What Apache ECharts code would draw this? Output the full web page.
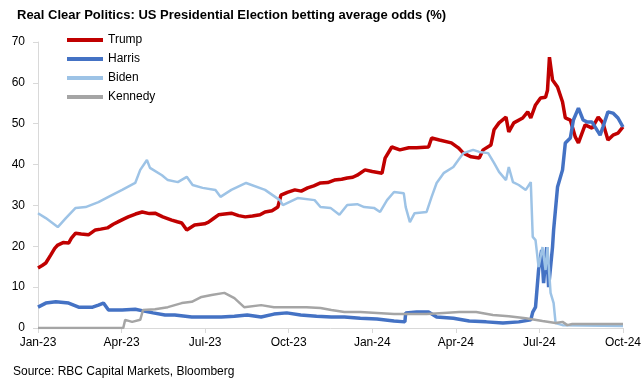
<!DOCTYPE html>
<html>
<head>
<meta charset="utf-8">
<script src="https://cdn.jsdelivr.net/npm/echarts@6/dist/echarts.min.js"></script>
<style>html,body{margin:0;padding:0;background:#fff}#c{width:644px;height:383px}</style>
</head>
<body>
<div id="c"></div>
<script>
// x values are months since Jan-2023
const tickLabels = ['Jan-23','Apr-23','Jul-23','Oct-23','Jan-24','Apr-24','Jul-24','Oct-24'];

const trumpX = [0,0.15,0.28,0.46,0.60,0.71,0.90,1.10,1.20,1.35,1.55,1.81,2.06,2.25,2.49,2.70,2.85,3.05,3.24,3.50,3.74,4.00,4.20,4.48,4.80,5.00,5.16,5.34,5.62,5.98,6.12,6.30,6.48,6.70,6.94,7.20,7.44,7.70,7.97,8.15,8.40,8.61,8.72,8.95,9.22,9.45,9.68,9.90,10.14,10.40,10.64,10.90,11.10,11.30,11.46,11.74,12.00,12.35,12.46,12.70,12.99,13.31,13.59,14.02,14.13,14.41,14.84,15.09,15.27,15.55,15.84,15.98,16.26,16.37,16.55,16.80,16.90,17.08,17.40,17.58,17.69,17.86,18.04,18.22,18.29,18.36,18.47,18.65,18.83,18.93,19.11,19.29,19.40,19.64,19.89,20.11,20.28,20.46,20.64,20.82,21.00];
const trumpY = [14.7,15.3,15.9,17.9,19.5,20.3,20.9,20.8,22.0,23.2,23.0,22.8,24.0,24.2,24.5,25.4,25.9,26.6,27.2,27.9,28.4,28.0,28.1,27.2,26.4,26.0,25.7,24.0,25.2,25.5,25.9,26.8,27.7,27.9,28.1,27.5,27.2,27.4,27.7,28.4,28.7,29.6,32.5,33.2,33.8,33.5,34.3,34.8,35.5,35.6,36.2,36.4,36.7,36.9,37.4,38.7,38.3,37.9,41.6,44.3,43.6,44.1,44.1,44.3,46.5,46.0,45.3,44.1,42.8,41.9,41.6,43.6,44.8,48.5,50.2,51.6,48.0,50.2,51.4,52.9,51.4,54.6,56.3,56.5,58.2,66.3,60.7,59.0,55.3,51.4,50.9,46.7,45.3,49.7,48.9,51.6,50.2,46.0,47.2,47.7,49.2];

const harrisX = [0,0.28,0.64,1.10,1.46,1.96,2.17,2.35,2.53,3.02,3.49,3.77,4.13,4.56,4.91,5.52,6.09,6.58,7.05,7.51,8.01,8.47,8.93,9.43,10.00,10.53,11.00,11.57,12.17,12.78,13.17,13.20,13.59,14.02,14.31,14.91,15.48,16.09,16.69,17.26,17.69,17.76,17.86,17.97,18.08,18.15,18.26,18.33,18.47,18.51,18.65,18.83,18.93,19.11,19.22,19.40,19.57,19.72,19.89,20.18,20.28,20.46,20.64,20.82,21.00];
const harrisY = [5.1,6.1,6.4,6.1,5.1,5.1,5.6,6.1,4.4,4.4,4.6,4.2,3.7,3.2,3.2,2.7,2.7,2.7,2.9,3.2,2.7,3.4,3.7,3.2,2.9,2.7,2.7,2.4,2.2,1.7,1.5,3.7,3.9,3.9,2.7,2.4,1.7,1.5,1.2,1.5,2.0,3.9,5.1,14.2,19.1,11.0,19.8,10.0,19.8,24.0,34.5,38.7,45.3,46.5,50.9,53.8,50.9,50.4,50.4,47.2,49.2,52.9,52.6,51.4,49.2];

const bidenX = [0,0.28,0.71,1.00,1.35,1.71,2.17,2.53,3.02,3.49,3.67,3.91,4.02,4.45,4.66,5.02,5.34,5.55,5.91,6.37,6.55,6.94,7.47,8.15,8.68,8.79,9.32,9.93,10.14,10.50,10.82,11.10,11.46,11.71,12.06,12.28,12.53,12.78,13.13,13.20,13.35,13.52,13.95,14.13,14.31,14.56,14.91,15.09,15.27,15.62,15.84,16.16,16.37,16.55,16.80,16.90,17.05,17.26,17.51,17.69,17.76,17.86,17.97,18.11,18.22,18.29,18.40,18.51,18.58,18.83,21.00];
const bidenY = [28.1,26.9,24.7,26.9,29.4,29.6,30.8,32.1,33.8,35.5,38.7,41.1,39.2,37.4,36.2,35.7,37.0,35.0,34.3,33.8,32.1,33.8,35.5,33.8,31.3,30.1,31.8,31.3,29.6,29.4,27.7,30.1,30.3,29.6,29.4,28.4,31.3,33.3,33.0,29.6,25.9,28.1,28.4,32.1,35.5,37.9,39.4,41.1,42.8,43.6,43.1,42.8,40.4,38.2,36.2,39.4,35.7,35.0,33.8,35.7,22.3,21.5,14.9,19.8,14.2,19.8,8.6,6.1,1.2,0.7,0.5];

const kennedyX = [0,3.06,3.13,3.38,3.67,3.77,4.20,4.66,5.16,5.52,5.87,6.23,6.69,7.05,7.40,8.01,8.47,9.07,9.64,10.14,10.53,11.00,11.57,12.17,12.78,13.35,13.95,14.56,15.12,15.73,16.33,16.90,17.51,18.11,18.58,18.83,19.00,19.18,21.00];
const kennedyY = [0,0,2.0,1.5,2.0,4.4,4.6,5.1,6.1,6.4,7.6,8.1,8.6,7.3,5.1,5.6,5.1,5.1,5.1,4.9,4.4,3.9,3.9,3.7,3.4,3.4,3.4,3.7,3.9,3.9,3.2,2.9,2.4,1.7,1.2,1.5,0.7,1.0,1.0];

const pair = (xs, ys) => xs.map((x, i) => [x, ys[i]]);
const FONT = 'Liberation Sans, Arial, sans-serif';

const chart = echarts.init(document.getElementById('c'), null, {renderer: 'canvas'});
chart.setOption({
  animation: false,
  backgroundColor: '#ffffff',
  textStyle: {fontFamily: FONT},
  title: [
    {text: 'Real Clear Politics: US Presidential Election betting average odds (%)', left: 12, top: 4,
     textStyle: {fontFamily: FONT, fontSize: 13, fontWeight: 'bold', color: '#000'}},
    {text: 'Source: RBC Capital Markets, Bloomberg', left: 8, top: 361,
     textStyle: {fontFamily: FONT, fontSize: 12, fontWeight: 'normal', color: '#000'}}
  ],
  legend: {
    orient: 'vertical', left: 62, top: 29, itemWidth: 36, itemHeight: 4, itemGap: 7, itemTextGap: 4,
    icon: 'rect',
    textStyle: {fontFamily: FONT, fontSize: 12, color: '#000'},
    data: ['Trump', 'Harris', 'Biden', 'Kennedy']
  },
  grid: {left: 38, right: 16, top: 42, bottom: 55, containLabel: false},
  xAxis: {
    type: 'value', min: 0, max: 21, interval: 3,
    axisLine: {show: true, lineStyle: {color: '#d9d9d9', width: 1}},
    axisTick: {show: true, inside: false, length: 5, lineStyle: {color: '#d9d9d9'}},
    splitLine: {show: false},
    axisLabel: {margin: 9, fontFamily: FONT, fontSize: 12, color: '#000',
      formatter: v => tickLabels[Math.round(v / 3)] || ''}
  },
  yAxis: {
    type: 'value', min: 0, max: 70, interval: 10,
    axisLine: {show: true, lineStyle: {color: '#d9d9d9', width: 1}},
    axisTick: {show: true, inside: false, length: 5, lineStyle: {color: '#d9d9d9'}},
    splitLine: {show: false},
    axisLabel: {margin: 13, fontFamily: FONT, fontSize: 12, color: '#000'}
  },
  series: [
    {name: 'Trump', type: 'line', symbol: 'none', data: pair(trumpX, trumpY),
     lineStyle: {color: '#C00000', width: 3.5}, itemStyle: {color: '#C00000'}},
    {name: 'Harris', type: 'line', symbol: 'none', data: pair(harrisX, harrisY),
     lineStyle: {color: '#4472C4', width: 3.5}, itemStyle: {color: '#4472C4'}},
    {name: 'Biden', type: 'line', symbol: 'none', data: pair(bidenX, bidenY),
     lineStyle: {color: '#9DC3E6', width: 2.5}, itemStyle: {color: '#9DC3E6'}},
    {name: 'Kennedy', type: 'line', symbol: 'none', data: pair(kennedyX, kennedyY),
     lineStyle: {color: '#A5A5A5', width: 2.5}, itemStyle: {color: '#A5A5A5'}}
  ]
});
</script>
</body>
</html>
